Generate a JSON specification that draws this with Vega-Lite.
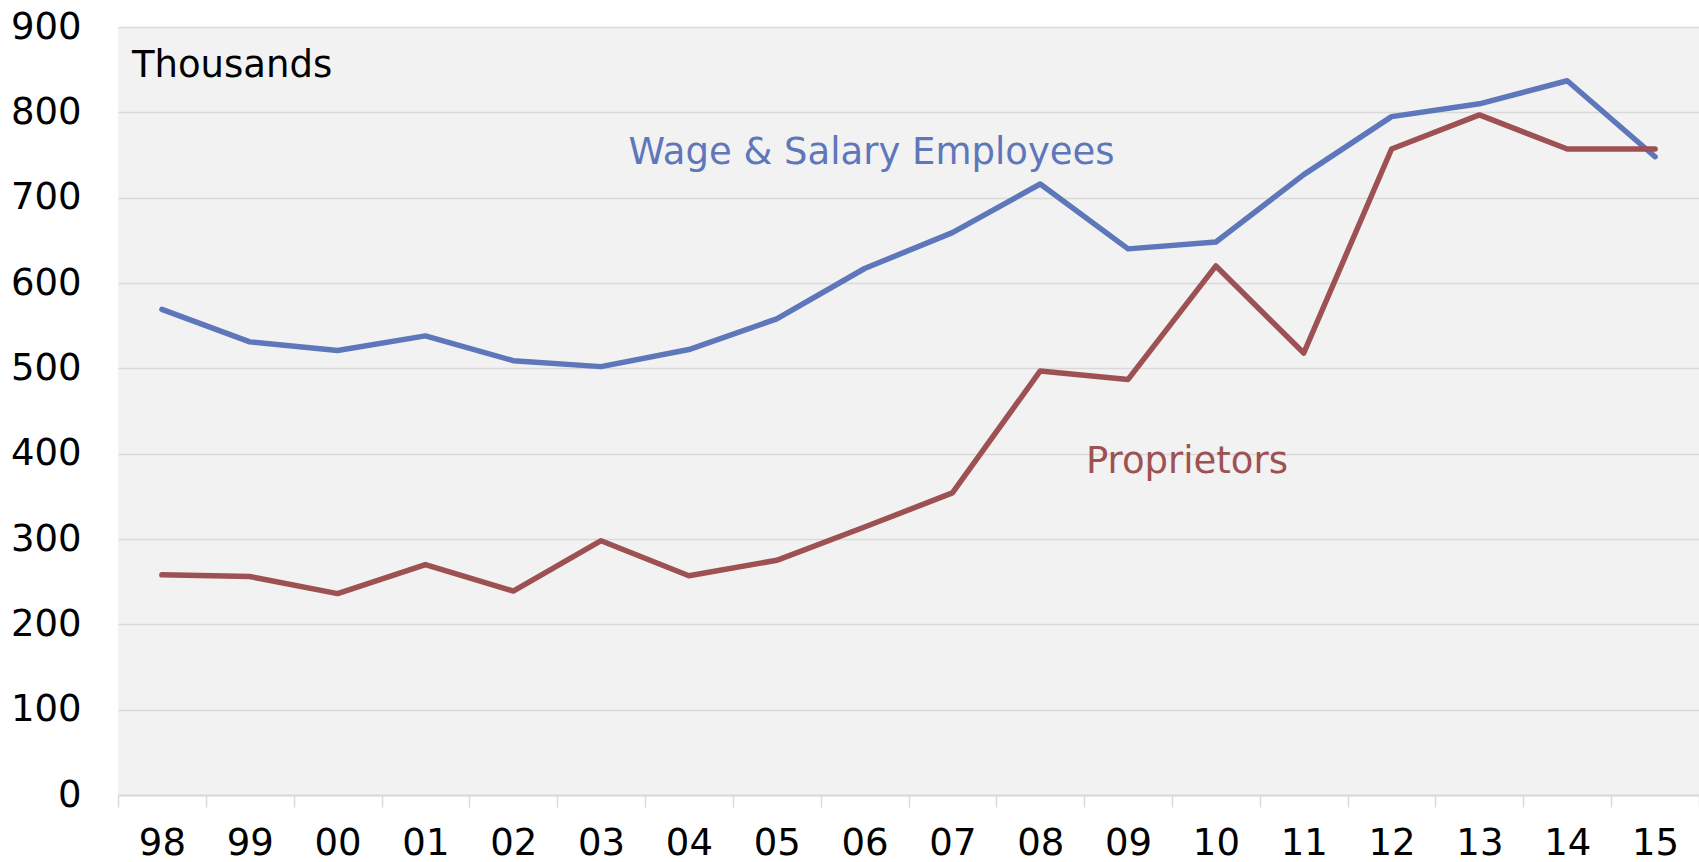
{
  "$schema": "https://vega.github.io/schema/vega-lite/v6.json",
  "autosize": "none",
  "width": 1581,
  "height": 768,
  "padding": {"left": 118, "top": 27, "right": 0, "bottom": 67},
  "background": "white",
  "config": {
    "font": "DejaVu Sans",
    "view": {"fill": "#F2F2F2", "stroke": null}
  },
  "datasets": {
    "series": [
      {"year": "98", "series": "Wage & Salary Employees", "value": 569},
      {"year": "99", "series": "Wage & Salary Employees", "value": 531},
      {"year": "00", "series": "Wage & Salary Employees", "value": 521},
      {"year": "01", "series": "Wage & Salary Employees", "value": 538},
      {"year": "02", "series": "Wage & Salary Employees", "value": 509},
      {"year": "03", "series": "Wage & Salary Employees", "value": 502},
      {"year": "04", "series": "Wage & Salary Employees", "value": 522},
      {"year": "05", "series": "Wage & Salary Employees", "value": 558},
      {"year": "06", "series": "Wage & Salary Employees", "value": 617},
      {"year": "07", "series": "Wage & Salary Employees", "value": 659},
      {"year": "08", "series": "Wage & Salary Employees", "value": 716},
      {"year": "09", "series": "Wage & Salary Employees", "value": 640},
      {"year": "10", "series": "Wage & Salary Employees", "value": 648},
      {"year": "11", "series": "Wage & Salary Employees", "value": 727},
      {"year": "12", "series": "Wage & Salary Employees", "value": 795},
      {"year": "13", "series": "Wage & Salary Employees", "value": 810},
      {"year": "14", "series": "Wage & Salary Employees", "value": 837},
      {"year": "15", "series": "Wage & Salary Employees", "value": 748},
      {"year": "98", "series": "Proprietors", "value": 258},
      {"year": "99", "series": "Proprietors", "value": 256},
      {"year": "00", "series": "Proprietors", "value": 236},
      {"year": "01", "series": "Proprietors", "value": 270},
      {"year": "02", "series": "Proprietors", "value": 239},
      {"year": "03", "series": "Proprietors", "value": 298},
      {"year": "04", "series": "Proprietors", "value": 257},
      {"year": "05", "series": "Proprietors", "value": 275},
      {"year": "06", "series": "Proprietors", "value": 314},
      {"year": "07", "series": "Proprietors", "value": 354},
      {"year": "08", "series": "Proprietors", "value": 497},
      {"year": "09", "series": "Proprietors", "value": 487},
      {"year": "10", "series": "Proprietors", "value": 620},
      {"year": "11", "series": "Proprietors", "value": 518},
      {"year": "12", "series": "Proprietors", "value": 757},
      {"year": "13", "series": "Proprietors", "value": 797},
      {"year": "14", "series": "Proprietors", "value": 757},
      {"year": "15", "series": "Proprietors", "value": 757}
    ]
  },
  "layer": [
    {
      "data": {"name": "series"},
      "mark": {"type": "line", "strokeWidth": 5.5, "strokeCap": "round", "strokeJoin": "round"},
      "encoding": {
        "x": {
          "field": "year",
          "type": "ordinal",
          "sort": ["98","99","00","01","02","03","04","05","06","07","08","09","10","11","12","13","14","15"],
          "scale": {"type": "band", "paddingInner": 0, "paddingOuter": 0},
          "axis": {
            "title": null,
            "labelAngle": 0,
            "labelFontSize": 37,
            "labelColor": "#000000",
            "labelBaseline": "middle",
            "labelPadding": 36,
            "tickBand": "extent",
            "tickSize": 12,
            "tickWidth": 1.5,
            "tickColor": "#D9D9D9",
            "domainColor": "#D9D9D9",
            "domainWidth": 2,
            "grid": false
          }
        },
        "y": {
          "field": "value",
          "type": "quantitative",
          "scale": {"domain": [0, 900], "nice": false},
          "axis": {
            "title": null,
            "values": [0, 100, 200, 300, 400, 500, 600, 700, 800, 900],
            "labelFontSize": 37,
            "labelColor": "#000000",
            "labelPadding": 37,
            "ticks": false,
            "domain": false,
            "grid": true,
            "gridColor": "#D9D9D9",
            "gridWidth": 1.5
          }
        },
        "color": {
          "field": "series",
          "type": "nominal",
          "scale": {"domain": ["Wage & Salary Employees", "Proprietors"], "range": ["#5E77BA", "#9E5152"]},
          "legend": null
        }
      }
    },
    {
      "data": {"values": [{"year": "06", "value": 752, "label": "Wage & Salary Employees"}]},
      "mark": {"type": "text", "fontSize": 37, "color": "#5E77BA", "align": "center", "baseline": "middle", "dx": 7},
      "encoding": {
        "x": {"field": "year", "type": "ordinal", "sort": ["98","99","00","01","02","03","04","05","06","07","08","09","10","11","12","13","14","15"]},
        "y": {"field": "value", "type": "quantitative"},
        "text": {"field": "label"}
      }
    },
    {
      "data": {"values": [{"year": "10", "value": 390, "label": "Proprietors"}]},
      "mark": {"type": "text", "fontSize": 37, "color": "#9E5152", "align": "center", "baseline": "middle", "dx": -29},
      "encoding": {
        "x": {"field": "year", "type": "ordinal", "sort": ["98","99","00","01","02","03","04","05","06","07","08","09","10","11","12","13","14","15"]},
        "y": {"field": "value", "type": "quantitative"},
        "text": {"field": "label"}
      }
    },
    {
      "data": {"values": [{"year": "98", "value": 854, "label": "Thousands"}]},
      "mark": {"type": "text", "fontSize": 37, "color": "#000000", "align": "left", "baseline": "middle", "dx": -30},
      "encoding": {
        "x": {"field": "year", "type": "ordinal", "sort": ["98","99","00","01","02","03","04","05","06","07","08","09","10","11","12","13","14","15"]},
        "y": {"field": "value", "type": "quantitative"},
        "text": {"field": "label"}
      }
    }
  ]
}
